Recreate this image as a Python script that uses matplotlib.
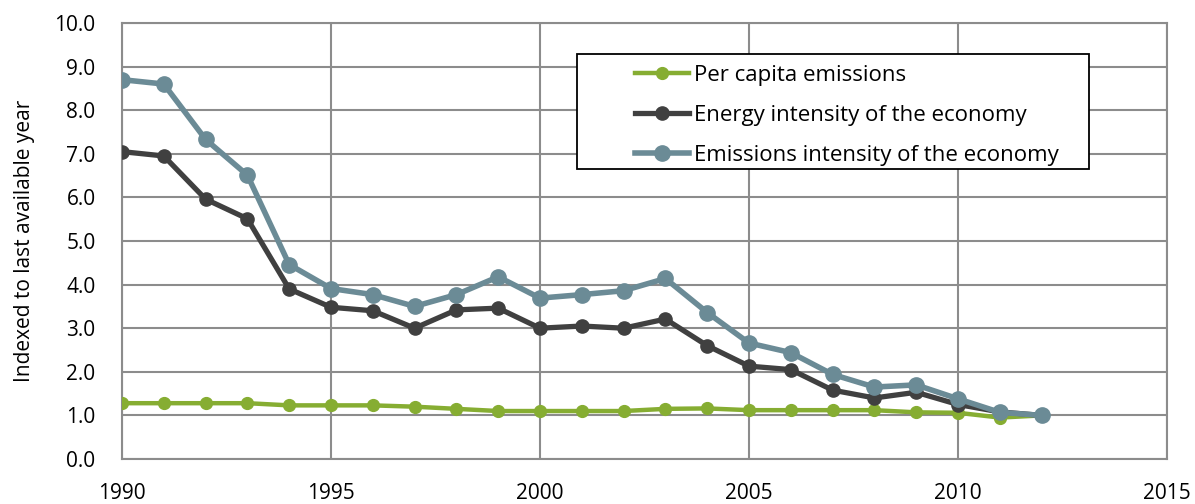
import matplotlib.pyplot as plt
from matplotlib.patches import Rectangle

years = list(range(1990, 2013))
per_capita = [1.28, 1.28, 1.28, 1.28, 1.23, 1.23, 1.23, 1.20, 1.15, 1.10, 1.10,
              1.10, 1.10, 1.15, 1.16, 1.12, 1.12, 1.12, 1.12, 1.07, 1.06, 0.95, 1.00]
energy_intensity = [7.05, 6.95, 5.96, 5.51, 3.90, 3.48, 3.40, 3.00, 3.42, 3.46, 3.00,
                    3.05, 3.00, 3.21, 2.60, 2.13, 2.05, 1.58, 1.40, 1.53, 1.25, 1.08, 1.00]
emissions_intensity = [8.70, 8.60, 7.33, 6.51, 4.46, 3.91, 3.77, 3.50, 3.77, 4.18, 3.69,
                       3.77, 3.86, 4.14, 3.36, 2.66, 2.44, 1.94, 1.65, 1.70, 1.38, 1.07, 1.00]
labels = ["Per capita emissions", "Energy intensity of the economy",
          "Emissions intensity of the economy"]

plt.rcParams['font.family'] = ['Open Sans', 'DejaVu Sans']

W, H = 1195, 504
fig = plt.figure(figsize=(W / 100, H / 100), dpi=100)
ax = fig.add_axes([122 / W, 45 / H, 1045 / W, 436 / H])

ax.plot(years, per_capita, "-o", color="#86AD32", lw=3.2, markersize=8.5, label=labels[0], zorder=3)
ax.plot(years, energy_intensity, "-o", color="#404040", lw=3.8, markersize=9.5, label=labels[1], zorder=4)
ax.plot(years, emissions_intensity, "-o", color="#6B8B96", lw=4.0, markersize=11, label=labels[2], zorder=5)

ax.set_xlim(1990, 2015)
ax.set_ylim(0, 10)
ax.set_xticks(range(1990, 2016, 5))
ax.set_yticks(range(0, 11))
ax.set_yticklabels([f"{v:.1f}" for v in range(0, 11)])
ax.tick_params(length=0, labelsize=15)
ax.tick_params(axis="y", pad=19)
ax.tick_params(axis="x", pad=17)
ax.grid(True, color="#8c8c8c", lw=1.5)
ax.set_axisbelow(True)
for s in ax.spines.values():
    s.set_color("#8c8c8c")
    s.set_linewidth(1.5)

ax.set_ylabel("Indexed to last available year", fontsize=15, labelpad=14)

# legend frame drawn separately so the handles can sit inset from the border
box = Rectangle((577 / W, 1 - 169 / H), 512 / W, 115 / H, transform=fig.transFigure,
                facecolor="white", edgecolor="black", lw=1.3, zorder=10, clip_on=False)
ax.add_patch(box)
leg = ax.legend(loc="upper left", bbox_to_anchor=(635 / W, 1 - 65 / H),
                bbox_transform=fig.transFigure, borderaxespad=0, borderpad=0,
                fontsize=16, frameon=False, handlelength=2.45,
                labelspacing=0.86, handletextpad=0.2)
leg.set_zorder(11)

fig.savefig("out.png", dpi=100)
